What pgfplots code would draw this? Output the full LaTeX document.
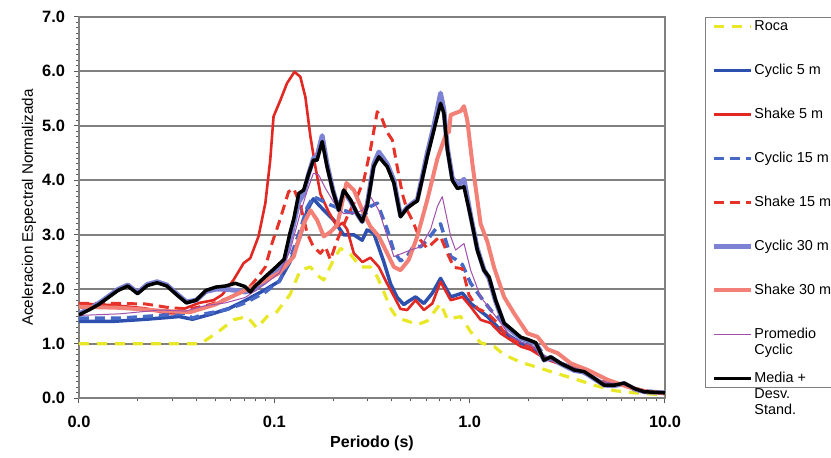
\documentclass[border=0pt]{standalone}
\usepackage{pgfplots}
\pgfplotsset{compat=1.18}
\usepackage{fontspec}
\setmainfont{Liberation Sans}
\definecolor{roca}{RGB}{232,232,40}
\definecolor{cyc5}{RGB}{45,80,175}
\definecolor{shk5}{RGB}{225,40,35}
\definecolor{cyc15}{RGB}{70,105,200}
\definecolor{shk15}{RGB}{230,50,40}
\definecolor{cyc30}{RGB}{125,130,212}
\definecolor{shk30}{RGB}{242,128,118}
\definecolor{prom}{RGB}{160,80,170}
\definecolor{gridc}{RGB}{130,127,127}
\newcommand{\lentry}[2][2pt]{\raisebox{0pt}[5.5pt][#1]{\begin{tabular}[t]{@{}l@{}}#2\end{tabular}}}
\begin{document}
\begin{tikzpicture}
\begin{axis}[
  at={(39.5pt,29.85pt)}, anchor=south west,
  scale only axis, width=293pt, height=190.75pt,
  xmode=log, xmin=0.01, xmax=10, ymin=0, ymax=7,
  xtick={0.01,0.1,1,10}, xticklabels={0.0,0.1,1.0,10.0},
  minor xtick={0.02,0.03,0.04,0.05,0.06,0.07,0.08,0.09,0.2,0.3,0.4,0.5,0.6,0.7,0.8,0.9,2,3,4,5,6,7,8,9},
  ytick={0,1,2,3,4,5,6,7}, yticklabels={0.0,1.0,2.0,3.0,4.0,5.0,6.0,7.0},
  minor y tick num=9,
  tick align=outside, tick pos=left,
  major tick length=2.5pt, minor tick length=1.5pt,
  every tick/.style={black!65, line width=0.5pt},
  ymajorgrids, major grid style={gridc, line width=0.8pt},
  axis line style={gridc, line width=0.8pt},
  ticklabel style={font=\fontsize{8.2}{9}\selectfont\bfseries},
  yticklabel style={xshift=-1pt},
  xticklabel style={yshift=-3pt},
  xlabel={Periodo (s)},
  ylabel={Aceleracion Espectral Normalizada},
  xlabel style={font=\fontsize{8}{9.6}\selectfont\bfseries, at={(axis description cs:0.5,-0.117)}, anchor=center},
  ylabel style={font=\fontsize{7.6}{9}\selectfont, at={(axis description cs:-0.0853,0.5)}, anchor=center},
  legend image code/.code={\draw[#1,line cap=butt] (0pt,0pt) -- (18.5pt,0pt);},
  legend cell align=left,
  legend style={at={(rel axis cs:1.0683,1.0)}, anchor=north west,
    draw=gridc, line width=0.6pt, fill=white,
    inner xsep=3pt, inner ysep=0.5pt, row sep=14pt, column sep=0pt,
    nodes={inner sep=0.5pt},
    font=\fontsize{7.2}{8}\selectfont},
  every axis plot/.append style={line join=round},
]
% Roca
\addplot[roca, line width=1.6pt, dash pattern=on 5pt off 4pt] coordinates {
(0.01,1.0) (0.01585,1.0) (0.02512,1.0) (0.04176,1.0) (0.05082,1.2) (0.0618,1.44) (0.07244,1.5) (0.08147,1.29) (0.09183,1.5) (0.1032,1.59) (0.1202,1.9) (0.1358,2.35) (0.1531,2.41) (0.1656,2.26) (0.1791,2.17) (0.2014,2.55) (0.2178,2.75) (0.2455,2.64) (0.2761,2.41) (0.3105,2.41) (0.3365,2.23) (0.3639,1.95) (0.3936,1.65) (0.4256,1.47) (0.4786,1.42) (0.5395,1.35) (0.6067,1.42) (0.7096,1.74) (0.7691,1.45) (0.8995,1.5) (1.012,1.22) (1.138,1.02) (1.334,0.95) (1.5,0.80) (1.828,0.66) (2.312,0.55) (2.704,0.47) (3.428,0.36) (4.335,0.24) (5.495,0.14) (6.966,0.10) (10,0.06)};
\addlegendentry{\lentry{Roca}}
% Cyclic 5 m
\addplot[cyc5, line width=1.75pt] coordinates {
(0.01,1.41) (0.01476,1.41) (0.02198,1.45) (0.03258,1.5) (0.03811,1.45) (0.04808,1.55) (0.05875,1.65) (0.07161,1.8) (0.09057,2.0) (0.1061,2.15) (0.1202,2.5) (0.1358,2.97) (0.1472,3.45) (0.1585,3.66) (0.1687,3.55) (0.1862,3.39) (0.2014,3.27) (0.2265,3.0) (0.2553,3.0) (0.2818,2.9) (0.2985,3.09) (0.3228,3.03) (0.3639,2.5) (0.3936,2.1) (0.4256,1.85) (0.4603,1.72) (0.4864,1.78) (0.5284,1.86) (0.5834,1.74) (0.6442,1.93) (0.7096,2.2) (0.7998,1.86) (0.9183,1.93) (1.012,1.74) (1.117,1.62) (1.233,1.5) (1.387,1.31) (1.622,1.13) (1.828,1.01) (2.056,0.95) (2.455,0.74) (2.931,0.64) (3.707,0.5) (4.699,0.3) (5.943,0.26) (7.534,0.14) (10,0.1)};
\addlegendentry{\lentry{Cyclic 5 m}}
% Shake 5 m
\addplot[shk5, line width=1.3pt] coordinates {
(0.01,1.74) (0.01476,1.71) (0.02198,1.65) (0.02786,1.56) (0.03133,1.56) (0.03499,1.65) (0.04121,1.75) (0.04887,1.80) (0.05408,1.9) (0.0618,2.17) (0.06966,2.48) (0.0753,2.57) (0.08299,2.97) (0.08995,3.58) (0.09528,4.37) (0.09908,5.17) (0.1074,5.47) (0.1161,5.78) (0.1268,5.99) (0.1358,5.9) (0.1442,5.53) (0.1531,4.8) (0.1622,4.25) (0.1722,3.75) (0.1897,3.42) (0.2099,3.15) (0.2234,3.22) (0.236,3.1) (0.2553,2.66) (0.2825,2.5) (0.3105,2.58) (0.3428,2.41) (0.3784,2.1) (0.4018,1.93) (0.4426,1.64) (0.4786,1.62) (0.5284,1.80) (0.5834,1.62) (0.6442,1.74) (0.7096,2.14) (0.7998,1.80) (0.9183,1.86) (1.012,1.68) (1.138,1.44) (1.282,1.38) (1.442,1.19) (1.622,1.07) (1.828,0.95) (2.056,0.89) (2.455,0.72) (2.931,0.62) (3.707,0.5) (4.699,0.3) (5.943,0.25) (7.534,0.13) (10,0.1)};
\addlegendentry{\lentry{Shake 5 m}}
% Cyclic 15 m
\addplot[cyc15, line width=1.75pt, dash pattern=on 5pt off 3pt] coordinates {
(0.01,1.47) (0.01622,1.47) (0.026,1.52) (0.03499,1.56) (0.03811,1.47) (0.04426,1.55) (0.0561,1.62) (0.07096,1.75) (0.08995,1.95) (0.1061,2.15) (0.1202,2.55) (0.1358,3.1) (0.1472,3.5) (0.1585,3.7) (0.1722,3.64) (0.1936,3.55) (0.2259,3.45) (0.2553,3.39) (0.2871,3.33) (0.3105,3.52) (0.3365,3.58) (0.3784,3.1) (0.4093,2.7) (0.4426,2.52) (0.4786,2.6) (0.5176,2.8) (0.561,2.78) (0.6067,2.9) (0.6839,3.15) (0.7096,3.2) (0.7998,2.6) (0.8472,2.55) (0.9183,2.45) (1.012,2.11) (1.138,1.86) (1.282,1.62) (1.442,1.44) (1.687,1.19) (1.897,1.07) (2.223,0.97) (2.455,0.74) (2.931,0.64) (3.707,0.51) (4.699,0.3) (5.943,0.26) (7.534,0.14) (10,0.1)};
\addlegendentry{\lentry{Cyclic 15 m}}
% Shake 15 m
\addplot[shk15, line width=1.5pt, dash pattern=on 5pt off 3pt] coordinates {
(0.01,1.74) (0.01622,1.74) (0.02198,1.73) (0.02931,1.66) (0.03707,1.64) (0.04699,1.72) (0.05943,1.85) (0.07244,1.99) (0.08147,2.2) (0.08995,2.41) (0.09727,2.84) (0.1074,3.3) (0.1183,3.79) (0.1256,3.85) (0.1358,3.55) (0.1472,3.03) (0.1585,2.78) (0.1722,2.66) (0.1828,2.78) (0.1936,2.54) (0.2099,2.9) (0.236,3.33) (0.2655,3.7) (0.2871,4.0) (0.3105,4.56) (0.3365,5.26) (0.354,5.15) (0.3784,4.88) (0.4018,4.74) (0.4256,4.25) (0.4519,3.76) (0.4786,3.45) (0.5082,3.27) (0.561,2.9) (0.6067,2.75) (0.6699,2.9) (0.7096,2.97) (0.7691,2.66) (0.8318,2.4) (0.9183,2.38) (0.9908,1.9) (1.094,1.65) (1.233,1.56) (1.387,1.38) (1.56,1.13) (1.828,1.0) (2.056,0.95) (2.455,0.73) (2.931,0.63) (3.707,0.5) (4.699,0.3) (5.943,0.26) (7.534,0.13) (10,0.1)};
\addlegendentry{\lentry{Shake 15 m}}
% Cyclic 30 m
\addplot[cyc30, line width=2.4pt] coordinates {
(0.01,1.55) (0.01122,1.64) (0.01259,1.74) (0.01413,1.87) (0.01585,2.0) (0.01778,2.08) (0.01995,1.94) (0.02239,2.09) (0.02512,2.14) (0.02818,2.08) (0.03162,1.92) (0.03548,1.77) (0.03981,1.80) (0.04467,1.96) (0.05012,2.0) (0.05623,2.0) (0.0631,1.98) (0.07079,1.95) (0.07943,2.0) (0.08913,2.15) (0.1,2.3) (0.1122,2.5) (0.1202,2.9) (0.1334,3.6) (0.1413,3.75) (0.1493,4.1) (0.1585,4.4) (0.1656,4.45) (0.1758,4.82) (0.1862,4.3) (0.1995,3.82) (0.2138,3.45) (0.2265,3.8) (0.2455,3.62) (0.2655,3.38) (0.2818,3.24) (0.2985,3.55) (0.3228,4.3) (0.3428,4.52) (0.3784,4.3) (0.4093,4.0) (0.4426,3.35) (0.4786,3.5) (0.5176,3.6) (0.5395,3.64) (0.6067,4.5) (0.6561,5.0) (0.7096,5.6) (0.7379,5.3) (0.7691,4.6) (0.8147,4.05) (0.865,3.9) (0.9354,4.02) (1.012,3.35) (1.094,2.75) (1.183,2.36) (1.256,2.2) (1.358,1.78) (1.5,1.36) (1.622,1.25) (1.828,1.1) (1.977,1.07) (2.178,1.0) (2.404,0.7) (2.6,0.75) (2.931,0.63) (3.428,0.51) (3.855,0.48) (4.335,0.36) (4.887,0.24) (5.495,0.23) (6.18,0.27) (6.966,0.17) (7.834,0.12) (10,0.1)};
\addlegendentry{\lentry{Cyclic 30 m}}
% Shake 30 m
\addplot[shk30, line width=2pt] coordinates {
(0.01,1.68) (0.01622,1.66) (0.02786,1.6) (0.03707,1.58) (0.04977,1.72) (0.07161,1.99) (0.09057,2.17) (0.1061,2.3) (0.1256,2.6) (0.1413,3.2) (0.1531,3.45) (0.1656,3.27) (0.1791,2.97) (0.1936,3.05) (0.2099,3.18) (0.2259,3.7) (0.2339,3.95) (0.2553,3.82) (0.2871,3.39) (0.3105,3.15) (0.3428,2.97) (0.3784,2.66) (0.4093,2.41) (0.4426,2.35) (0.4875,2.54) (0.5395,2.97) (0.6067,3.64) (0.6839,4.4) (0.7691,4.92) (0.7834,4.88) (0.7998,5.2) (0.8995,5.27) (0.9354,5.36) (0.9727,5.1) (1.033,4.3) (1.138,3.2) (1.233,2.87) (1.334,2.4) (1.5,1.86) (1.687,1.56) (1.977,1.19) (2.223,1.13) (2.5,0.9) (2.818,0.83) (3.296,0.64) (4.018,0.52) (5.082,0.34) (6.442,0.21) (8.147,0.12) (10,0.09)};
\addlegendentry{\lentry{Shake 30 m}}
% Promedio Cyclic
\addplot[prom, line width=0.5pt] coordinates {
(0.01,1.52) (0.01622,1.55) (0.026,1.62) (0.03499,1.6) (0.04426,1.7) (0.0561,1.75) (0.07096,1.85) (0.08995,2.1) (0.1061,2.3) (0.1202,2.7) (0.1358,3.4) (0.1472,3.8) (0.1585,4.13) (0.1687,4.1) (0.1828,3.85) (0.2014,3.6) (0.2259,3.39) (0.2553,3.39) (0.2825,3.45) (0.3105,3.7) (0.3428,3.45) (0.3784,2.97) (0.4093,2.6) (0.4519,2.66) (0.4977,2.72) (0.561,2.78) (0.631,3.1) (0.6839,3.52) (0.7244,3.7) (0.7998,2.97) (0.8472,2.72) (0.9354,2.84) (1.012,2.35) (1.138,1.86) (1.282,1.62) (1.442,1.38) (1.622,1.13) (1.828,1.03) (2.056,0.97) (2.455,0.74) (2.931,0.64) (3.707,0.51) (4.699,0.3) (5.943,0.26) (7.534,0.14) (10,0.1)};
\addlegendentry{\lentry{Promedio\\Cyclic}}
% Media + Desv. Stand.
\addplot[black, line width=1.75pt] coordinates {
(0.01,1.53) (0.01122,1.62) (0.01259,1.72) (0.01413,1.85) (0.01585,1.98) (0.01778,2.06) (0.01995,1.92) (0.02239,2.07) (0.02512,2.12) (0.02818,2.06) (0.03162,1.90) (0.03548,1.75) (0.03981,1.80) (0.04467,1.98) (0.05012,2.04) (0.05623,2.06) (0.0631,2.11) (0.07079,2.05) (0.0753,1.95) (0.07943,2.05) (0.08913,2.22) (0.1,2.38) (0.1122,2.55) (0.1202,3.03) (0.1259,3.30) (0.1334,3.76) (0.1413,3.82) (0.1493,4.10) (0.1585,4.37) (0.1656,4.37) (0.1758,4.71) (0.1862,4.25) (0.1995,3.80) (0.2138,3.45) (0.2265,3.82) (0.2455,3.64) (0.2655,3.39) (0.2818,3.24) (0.2985,3.52) (0.3228,4.25) (0.3428,4.43) (0.3784,4.25) (0.4093,3.95) (0.4426,3.33) (0.4786,3.49) (0.5176,3.58) (0.5395,3.62) (0.6067,4.43) (0.6561,4.92) (0.7096,5.41) (0.7379,5.23) (0.7691,4.56) (0.8147,4.00) (0.865,3.85) (0.9354,3.88) (1.012,3.33) (1.094,2.72) (1.183,2.35) (1.256,2.23) (1.358,1.80) (1.5,1.38) (1.622,1.28) (1.828,1.12) (1.977,1.08) (2.178,1.02) (2.404,0.70) (2.6,0.76) (2.931,0.64) (3.428,0.52) (3.855,0.49) (4.335,0.37) (4.887,0.24) (5.495,0.24) (6.18,0.28) (6.966,0.18) (7.834,0.12) (10,0.10)};
\addlegendentry{\lentry[16.5pt]{Media +\\Desv.\\Stand.}}
\end{axis}
\pgfresetboundingbox
\path[use as bounding box] (0,0) rectangle (415.5pt,229pt);
\end{tikzpicture}
\end{document}
